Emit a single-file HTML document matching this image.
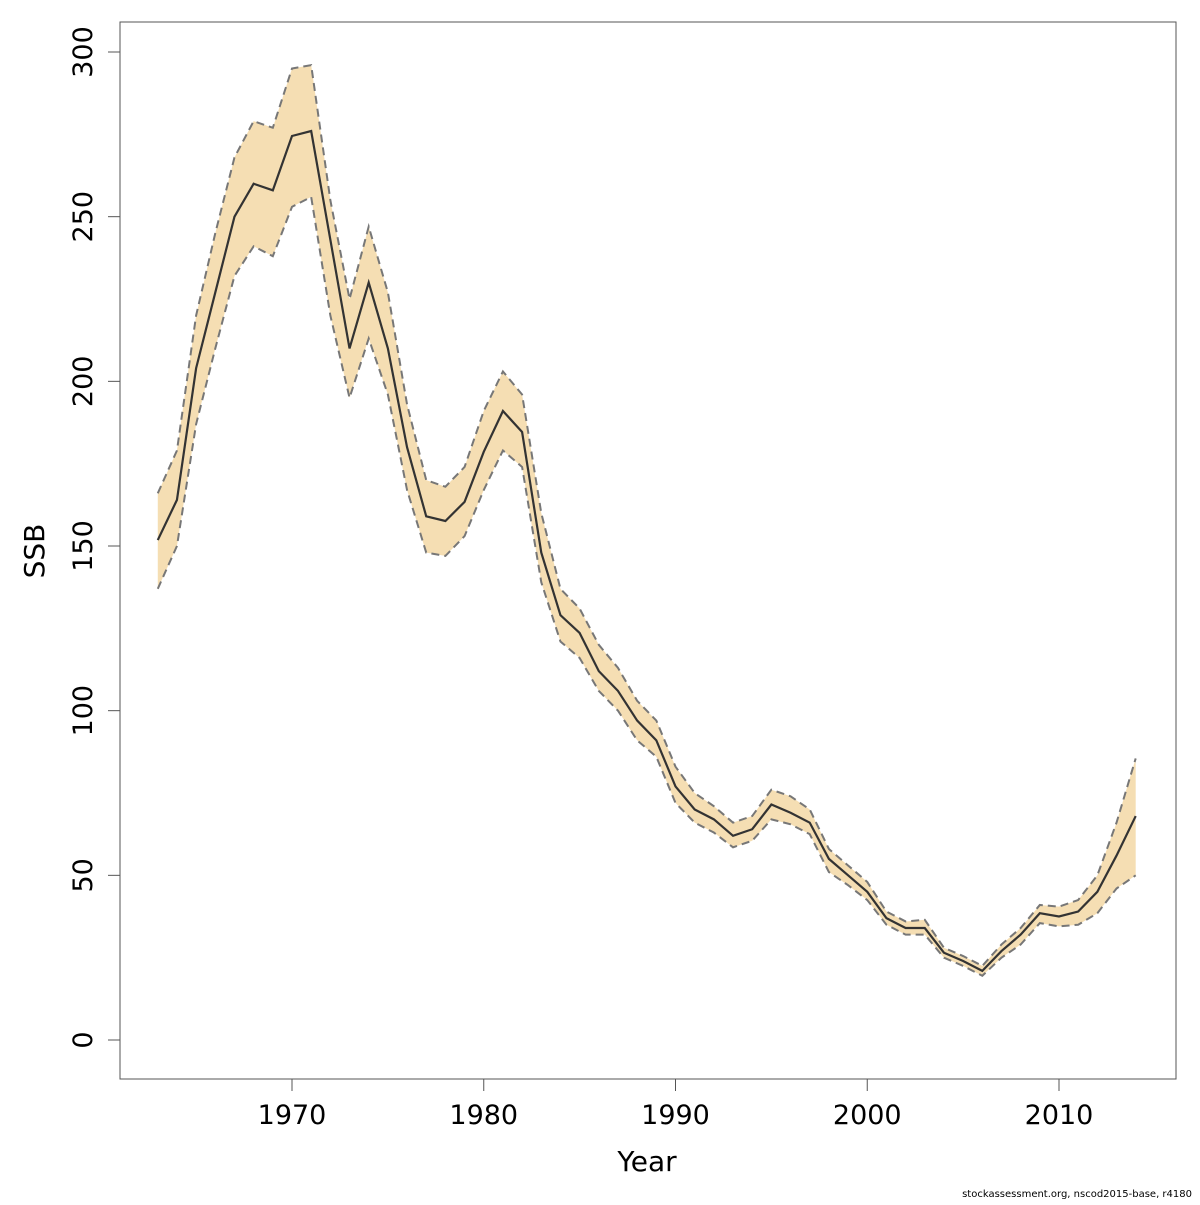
<!DOCTYPE html>
<html><head><meta charset="utf-8"><style>
html,body{margin:0;padding:0;background:#fff}
svg text{font-family:"DejaVu Sans","Liberation Sans",sans-serif;fill:#000}
</style></head><body>
<svg id="chart" width="1200" height="1200" viewBox="0 0 1200 1200" xmlns="http://www.w3.org/2000/svg">
<rect x="120" y="22" width="1056" height="1057" fill="none" stroke="#555" stroke-width="1"/>
<g id="band"></g><g id="lines"></g><g id="axes"></g>
<text x="647" y="1171" font-size="28" text-anchor="middle">Year</text>
<text transform="translate(44,551) rotate(-90)" font-size="28" text-anchor="middle">SSB</text>
<text x="1192" y="1197" font-size="10" text-anchor="end">stockassessment.org, nscod2015-base, r4180</text>
</svg>
<script>
const years=[];for(let y=1963;y<=2014;y++)years.push(y);
const ssb=[151.8,164,204,227,250,260,258,274.5,276,243,210,230,210,180,159,157.6,163.4,178.6,191,184.6,148,129,123.6,112,106,97,91,77,70,67,62,64,71.5,69,66,55,50,45,37,34,34,26.5,24,21,27,32,38.5,37.5,39,45,56,68];
const upper=[166,179,220,245,268,279,277,295,296,255,225,247,227,193,170,168,174,191,203,196,160,137,131,120,113,103,97,83,75,71,66,68,76,74,70,58,53,48,39,36,36.5,28,25.5,22.5,29,34,41,40.5,42.5,50,66,85.5];
const lower=[137,150,187,210,232,241,238,253,256,220,195,213,196,167,148,147,153,167,179,174,139,121,116,106,100,91,86,72,66,63,58.5,60.5,67,65.5,62.5,51,47,42.5,35,32,32,25,22.5,19.5,25,29,35.5,34.5,35,38.5,46,50];
const xTicks=[1970,1980,1990,2000,2010];
const yTicks=[0,50,100,150,200,250,300];
const NS="http://www.w3.org/2000/svg";
const X=v=>292+(v-1970)*19.175;
const Y=v=>1040-v*3.2933;
function mk(t,a,p){const e=document.createElementNS(NS,t);for(const k in a)e.setAttribute(k,a[k]);document.getElementById(p).appendChild(e);return e;}
const up=years.map((y,i)=>X(y)+","+Y(upper[i]));
const lo=years.map((y,i)=>X(y)+","+Y(lower[i])).reverse();
const band=mk("polygon",{points:up.concat(lo).join(" "),fill:"#f5deb3",stroke:"none"},"band");


[[upper,'upper-bound-line'],[lower,'lower-bound-line']].forEach(([arr,n])=>{
 const l=mk("polyline",{points:years.map((y,i)=>X(y)+","+Y(arr[i])).join(" "),fill:"none",stroke:"#777","stroke-width":2,"stroke-dasharray":"8,5"},"lines");
 
 
});
const m=mk("polyline",{points:years.map((y,i)=>X(y)+","+Y(ssb[i])).join(" "),fill:"none",stroke:"#333","stroke-width":2.2},"lines");


xTicks.forEach(t=>{
 const l=mk("line",{x1:X(t),x2:X(t),y1:1079,y2:1091,stroke:"#555"},"axes");
 
 
 const tx=mk("text",{x:X(t),y:1124,"font-size":27,"text-anchor":"middle"},"axes");tx.textContent=t;
 
 
});
yTicks.forEach(t=>{
 const l=mk("line",{x1:108,x2:120,y1:Y(t),y2:Y(t),stroke:"#555"},"axes");
 
 
 const tx=mk("text",{transform:`translate(92,${Y(t)}) rotate(-90)`,"font-size":27,"text-anchor":"middle"},"axes");tx.textContent=t;
 
 
});
</script>
</body></html>
